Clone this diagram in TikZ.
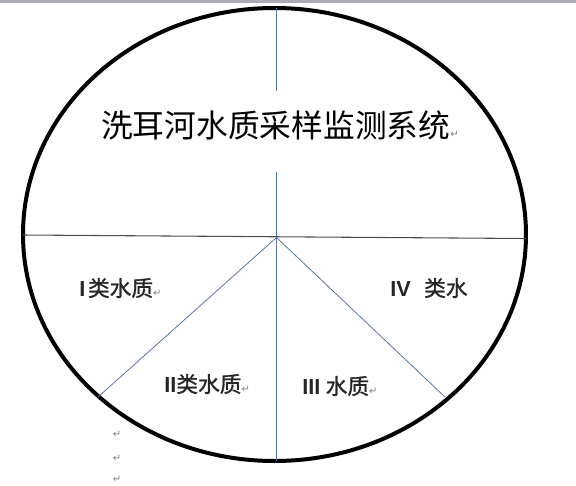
\documentclass[tikz,border=0pt]{standalone}
\usepackage{fontspec}
\newfontfamily\cjk{Noto Sans CJK SC}
\newfontfamily\cjkzone[FakeBold=1.2]{Noto Sans CJK SC}
\newfontfamily\numfont{Liberation Sans}
\newfontfamily\symfont{DejaVu Sans}
\usetikzlibrary{positioning}

\definecolor{splitblue}{RGB}{88,118,158}
\definecolor{barcolor}{RGB}{170,172,178}
\newcommand{\retmark}{{\symfont\fontsize{7.5}{8}\selectfont\color{gray}↵}}

\begin{document}
\begin{tikzpicture}[x=0.75pt, y=-0.75pt,
    rim/.style={draw=black, line width=3pt},
    split/.style={draw=splitblue, line width=0.6pt},
    midline/.style={draw=black!70, line width=0.8pt},
    title/.style={font=\cjk\fontsize{23.8}{26}\selectfont, anchor=west, inner sep=0pt},
    zone/.style={font=\fontsize{16.3}{18}\selectfont, anchor=west, inner sep=0pt, text=black!85},
    retnode/.style={inner sep=0pt}
]
\useasboundingbox (0,0) rectangle (576,486);

% Window edge
\fill[barcolor] (0,0) rectangle (576,2.5);

% Key points
\coordinate (ctr) at (276.5,237.5);
\coordinate (top) at (276.5,8);
\coordinate (gapA) at (276.5,91);
\coordinate (gapB) at (276.5,172);
\coordinate (bot) at (276.5,461);
\coordinate (lft) at (23,235);
\coordinate (rgt) at (526,238.5);
\coordinate (dl) at (98,397);
\coordinate (dr) at (445,397);

% Outer ellipse
\draw[rim] (274.5,234.5) ellipse [x radius=251.5, y radius=226.5];

% Division lines
\draw[split] (top) -- (gapA);
\draw[split] (gapB) -- (ctr);
\draw[split] (ctr) -- (bot);
\draw[midline] (lft) -- (rgt);
\draw[split] (ctr) -- (dl);
\draw[split] (ctr) -- (dr);

% Title
\node[title] (name) at (101,125) {洗耳河水质采样监测系统\retmark};

% Zones
\node[zone] (z1) at (79,288) {{\numfont\bfseries I}\hspace{2pt}{\cjkzone 类水质}\retmark};
\node[zone] (z2) at (164,384) {{\numfont\bfseries II}{\cjkzone 类水质}\retmark};
\node[zone] (z3) at (302,386) {{\numfont\bfseries III}\hspace{4pt}{\cjkzone 水质}\retmark};
\node[zone] (z4) at (390,288) {{\numfont\bfseries IV}\hspace{10pt}{\cjkzone 类水}};

% Empty lines
\node[retnode] (e1) at (117,434) {\retmark};
\node[retnode] (e2) at (117,458) {\retmark};
\node[retnode] (e3) at (117,479) {\retmark};

\end{tikzpicture}
\end{document}
